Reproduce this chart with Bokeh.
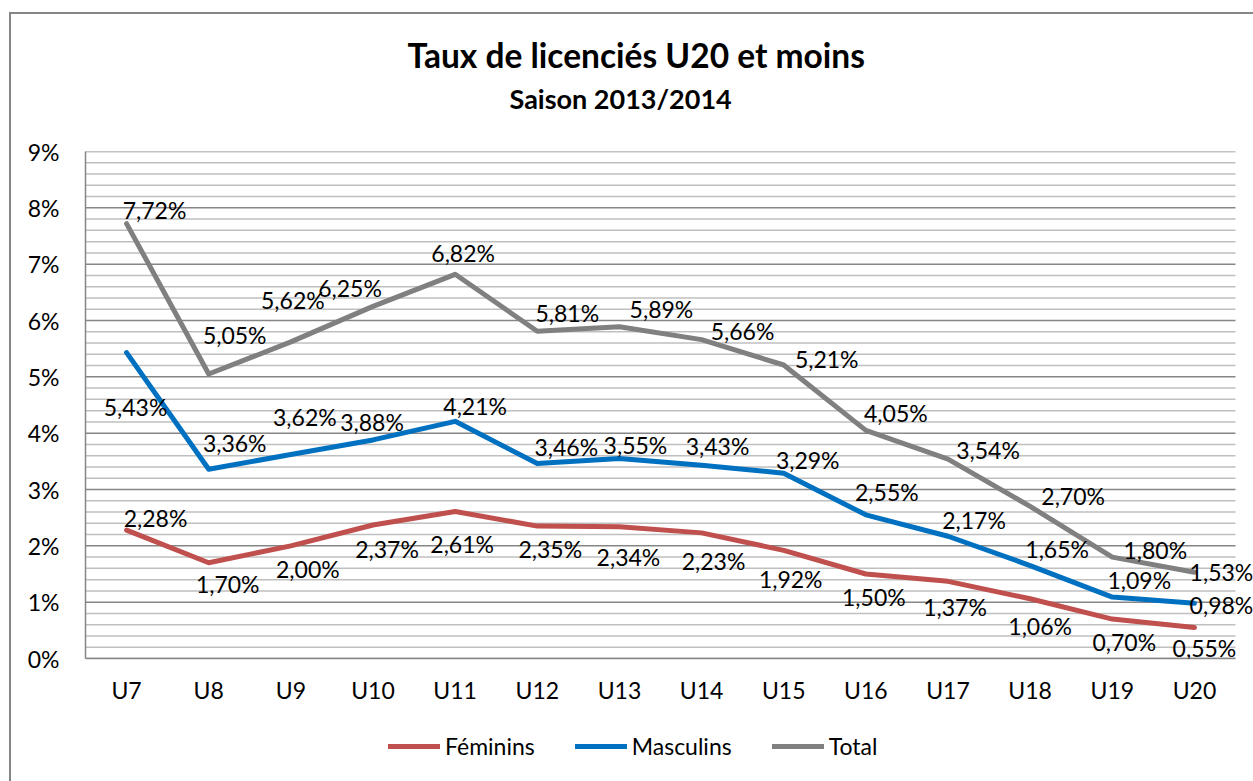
from bokeh.plotting import figure
from bokeh.layouts import column
from bokeh.models import (ColumnDataSource, Range1d, FixedTicker, CustomJSTickFormatter,
                          LabelSet, Legend, LegendItem, Title)
from bokeh.core.properties import value
from bokeh.embed import file_html
from bokeh.resources import INLINE

# ---------------- data ----------------
categories = ["U7", "U8", "U9", "U10", "U11", "U12", "U13", "U14", "U15",
              "U16", "U17", "U18", "U19", "U20"]
feminins = [2.28, 1.70, 2.00, 2.37, 2.61, 2.35, 2.34, 2.23, 1.92, 1.50, 1.37, 1.06, 0.70, 0.55]
masculins = [5.43, 3.36, 3.62, 3.88, 4.21, 3.46, 3.55, 3.43, 3.29, 2.55, 2.17, 1.65, 1.09, 0.98]
total = [7.72, 5.05, 5.62, 6.25, 6.82, 5.81, 5.89, 5.66, 5.21, 4.05, 3.54, 2.70, 1.80, 1.53]
y_ticks = [0, 1, 2, 3, 4, 5, 6, 7, 8, 9]
y_minor_step = 0.2
title_text = "Taux de licenciés U20 et moins"
subtitle_text = "Saison 2013/2014"
series_names = ["Féminins", "Masculins", "Total"]

# label placement offsets (pixels, dx right, dy down) — styling only
off_total = [(28, -14), (26, -39), (2, -42), (-23, -18), (8, -21), (30, -18), (42, -18),
             (41, -9), (43, -6), (30, -17), (40, -9), (43, -10), (43, -7), (27, 0)]
off_masc = [(9, 54), (26, -26), (14, -38), (-1, -18), (20, -15), (29, -17), (16, -14),
            (16, -19), (24, -13), (21, -23), (26, -16), (27, -17), (27, -17), (27, 2)]
off_fem = [(29, -12), (19, 21), (17, 23), (14, 24), (7, 33), (13, 23), (9, 30),
           (12, 28), (7, 29), (8, 23), (7, 26), (10, 27), (12, 23), (10, 20)]

FONT = "Lato"
FS = "23px"
colors = ["#C0504D", "#0070C0", "#808080"]
GRID_MAJOR = "#868686"
GRID_MINOR = "#BFBFBF"
BORDER = "#868686"

xs = list(range(len(categories)))
x_lo = xs[0] - 0.5
x_hi = xs[-1] + 0.5
extra_right = 18 / 82.14  # room for the last labels outside the gridded area

MAIN_H = 708
LEG_H = 781 - MAIN_H

p = figure(width=1253, height=MAIN_H, output_backend="svg", toolbar_location=None,
           x_range=Range1d(x_lo, x_hi + extra_right),
           y_range=Range1d(y_ticks[0], y_ticks[-1]),
           min_border_left=85, min_border_right=0, min_border_top=151,
           min_border_bottom=MAIN_H - 658)
p.outline_line_color = None
p.background_fill_color = "white"
p.border_fill_color = None
p.styles = {"background-color": "white",
            "box-shadow": "inset 9px 12px 0 0 white, inset 11px 14px 0 0 " + BORDER}
p.title.text = ""

# gridlines (limited to the category area)
n_minor = int(round((y_ticks[-1] - y_ticks[0]) / y_minor_step))
minor_levels = [y_ticks[0] + k * y_minor_step for k in range(n_minor + 1)]
minor_levels = [m for m in minor_levels if all(abs(m - t) > 1e-9 for t in y_ticks)]
p.segment(x0=[x_lo] * len(minor_levels), x1=[x_hi] * len(minor_levels),
          y0=minor_levels, y1=minor_levels, line_color=GRID_MINOR, line_width=1.5)
p.segment(x0=[x_lo] * len(y_ticks), x1=[x_hi] * len(y_ticks),
          y0=y_ticks, y1=y_ticks, line_color=GRID_MAJOR, line_width=1.5)
p.xgrid.grid_line_color = None
p.ygrid.grid_line_color = None

# axes
p.yaxis.ticker = FixedTicker(ticks=y_ticks)
p.yaxis.formatter = CustomJSTickFormatter(code="return tick.toFixed(0) + '%';")
p.xaxis.ticker = FixedTicker(ticks=xs)
p.xaxis.major_label_overrides = {i: c for i, c in zip(xs, categories)}
p.xaxis.bounds = (x_lo, x_hi)
for ax in (p.xaxis[0], p.yaxis[0]):
    ax.axis_line_color = GRID_MAJOR
    ax.axis_line_width = 1.5
    ax.major_tick_line_color = None
    ax.minor_tick_line_color = None
    ax.major_tick_out = 0
    ax.major_tick_in = 0
    ax.major_label_text_font = FONT
    ax.major_label_text_font_size = FS
    ax.major_label_text_color = "#000000"
p.yaxis.major_label_standoff = 26
p.xaxis.major_label_standoff = 17


def fmt(v):
    return f"{v:.2f}".replace(".", ",") + "%"


series = [(feminins, off_fem, colors[0]),
          (masculins, off_masc, colors[1]),
          (total, off_total, colors[2])]
for vals, offs, col in series:
    src = ColumnDataSource(dict(x=xs, y=vals,
                                txt=[fmt(v) for v in vals],
                                dx=[o[0] for o in offs],
                                dy=[-o[1] for o in offs]))
    p.line("x", "y", source=src, line_color=col, line_width=5,
           line_join="round", line_cap="round")
    p.add_layout(LabelSet(x="x", y="y", text="txt", source=src, x_offset="dx", y_offset="dy",
                          text_align="center", text_baseline="middle",
                          text_font=value(FONT), text_font_size=value(FS),
                          text_color="#000000"))

# titles: spacer next to the frame, then subtitle, then main title
p.add_layout(Title(text=" ", standoff=34, text_font_size="1px"), "above")
p.add_layout(Title(text=subtitle_text, align="left", offset=424, standoff=0,
                   text_font=FONT, text_font_style="bold", text_font_size="27px",
                   text_color="#000000"), "above")
p.add_layout(Title(text=title_text, align="left", offset=322, standoff=9,
                   text_font=FONT, text_font_style="bold", text_font_size="33.5px",
                   text_color="#000000"), "above")

# ---- legend strip (second figure under the chart; its frame aligns with the chart's) ----
q = figure(width=1253, height=LEG_H, output_backend="svg", toolbar_location=None,
           x_axis_location=None, y_axis_location=None, min_border=0,
           x_range=Range1d(x_lo, x_hi + extra_right), y_range=Range1d(100, 101))
q.outline_line_color = None
q.background_fill_color = None
q.border_fill_color = None
q.xgrid.visible = False
q.ygrid.visible = False
q.title.text = ""
q.styles = {"background-color": "white",
            "box-shadow": "inset 9px 0 0 0 white, inset 11px 0 0 0 " + BORDER}
# same series, out of this strip's view: only their legend glyphs show
leg_renderers = [q.line(x=xs, y=vals, line_color=col, line_width=5, line_cap="round")
                 for vals, _, col in series]
legend = Legend(items=[LegendItem(label=n, renderers=[r])
                       for n, r in zip(series_names, leg_renderers)],
                orientation="horizontal", location=(303, 21),
                glyph_width=52, glyph_height=24, label_height=24, label_standoff=5,
                spacing=40, padding=0, margin=0, border_line_color=None,
                background_fill_alpha=0, label_text_font=FONT,
                label_text_font_size=FS, label_text_color="#000000")
q.add_layout(legend)

layout = column(p, q, spacing=0)
open("out.html", "w").write(file_html(layout, INLINE))
